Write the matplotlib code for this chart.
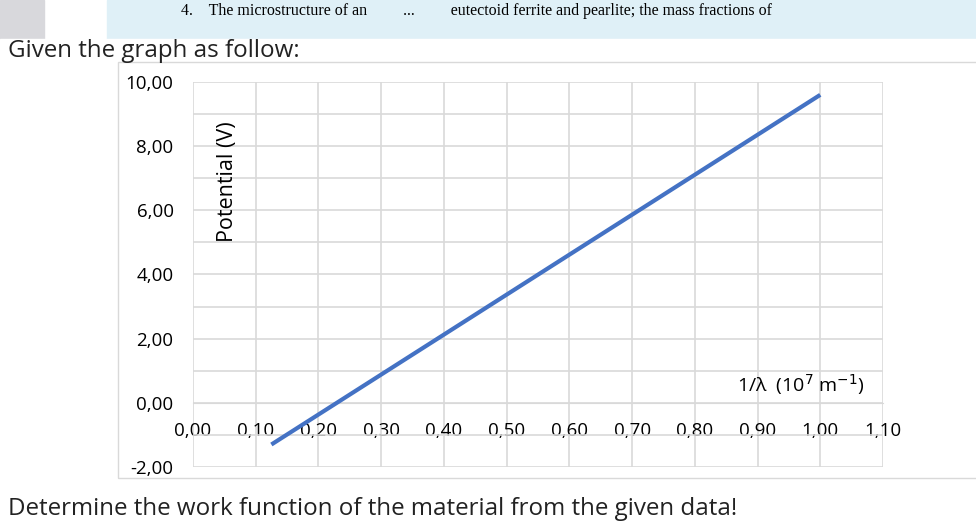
import matplotlib
matplotlib.use("Agg")
import matplotlib.pyplot as plt
import numpy as np

inv_lambda = [0.125, 1.0]
potential = [-1.3, 9.6]
xticks = [round(0.1*i, 2) for i in range(12)]
yticks = list(range(-2, 11, 2))

plt.rcParams['font.family'] = ['Open Sans', 'DejaVu Sans']
fig = plt.figure(figsize=(9.76, 5.26), dpi=100)

# page decorations
fig.patches.append(plt.Rectangle((0.11, 0.925), 0.89, 0.075, transform=fig.transFigure,
                                 color='#dff0f7', zorder=0))
fig.patches.append(plt.Rectangle((0.0, 0.925), 0.045, 0.075, transform=fig.transFigure,
                                 color='#d8d8dc', zorder=0))
fig.text(0.185, 0.995, "4.    The microstructure of an         ...         eutectoid ferrite and pearlite; the mass fractions of",
         fontsize=11.5, family='Liberation Serif', va='top')
fig.patches.append(plt.Rectangle((0.0, 0.0), 1, 0.925, transform=fig.transFigure,
                                 color='white', zorder=0))
fig.text(0.008, 0.925, "Given the graph as follow:", fontsize=17.4, va='top', color='#222222')
fig.text(0.008, 0.01, "Determine the work function of the material from the given data!", fontsize=17.4,
         va='bottom', color='#222222')
fig.patches.append(plt.Rectangle((0.121, 0.091), 0.9, 0.791, transform=fig.transFigure,
                                 fill=False, edgecolor='#d9d9d9', lw=1, zorder=1))

ax = fig.add_axes([0.1977, 0.1122, 0.707, 0.7319])
ax.set_zorder(5)
ax.patch.set_alpha(0)
ax.plot(inv_lambda, potential, color='#4472c4', lw=3, solid_capstyle='butt', zorder=3)
ax.set_xlim(0, 1.1)
ax.set_ylim(-2, 10)
ax.set_xticks(xticks)
ax.set_xticklabels([f"{v:.2f}".replace('.', ',') for v in xticks])
ax.set_yticks(yticks)
ax.set_yticklabels([f"{v:.2f}".replace('.', ',') for v in yticks])
ax.set_yticks(range(-2, 11), minor=True)
ax.grid(True, which='both', color='#d9d9d9', lw=1.2)
ax.tick_params(which='both', length=0)
ax.tick_params(axis='y', pad=14, labelsize=13.5)
ax.tick_params(axis='x', pad=14, labelsize=13.5)
for lab in ax.get_xticklabels():
    lab.set_bbox(dict(facecolor='white', edgecolor='none', pad=0.5))
for s in ['top', 'right', 'left']:
    ax.spines[s].set_visible(False)
ax.spines['bottom'].set_position(('data', 0))
ax.spines['bottom'].set_color('#d9d9d9')
ax.set_axisbelow(True)
ax.text(0.05, 0.74, "Potential (V)", transform=ax.transAxes, rotation=90, fontsize=15.5,
        ha='center', va='center')
ax.text(0.88, 0.215, "1/λ  (10$^7$ m$^{-1}$)", transform=ax.transAxes, fontsize=14,
        ha='center', va='center')
fig.savefig("out.png", dpi=100)
